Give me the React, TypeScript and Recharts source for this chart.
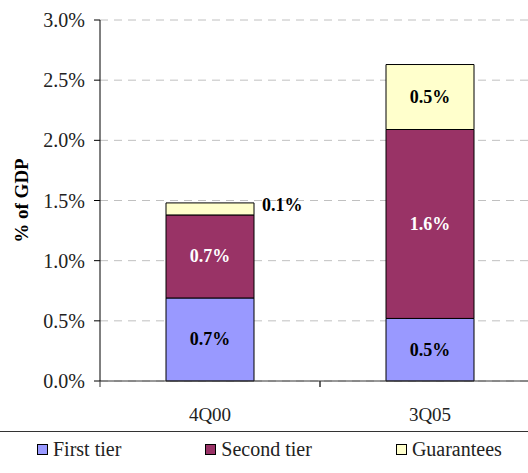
import React from 'react';
import { BarChart, Bar, XAxis, YAxis, CartesianGrid, Legend, LabelList } from 'recharts';

const FONT = "'Liberation Serif', 'Times New Roman', serif";

const periods = ['4Q00', '3Q05'];
const firstTier = [0.69, 0.52];
const secondTier = [0.69, 1.57];
const guarantees = [0.1, 0.54];
const yTicks = [0, 0.5, 1, 1.5, 2, 2.5, 3];

const SERIES = [
  { key: 'first', name: 'First tier', color: '#9999FF', text: '#000000' },
  { key: 'second', name: 'Second tier', color: '#993366', text: '#FFFFFF' },
  { key: 'guar', name: 'Guarantees', color: '#FFFFCC', text: '#000000' },
];

const data = periods.map((p, i) => ({
  period: p,
  first: firstTier[i],
  second: secondTier[i],
  guar: guarantees[i],
}));

// label inside the segment, or to the right when the segment is too thin
const makeLabel = (color: string) => (props: any) => {
  const { x, y, width, height, value } = props;
  const thin = height < 20;
  return (
    <text
      x={thin ? x + width + 8 : x + width / 2}
      y={thin ? y + 2 : y + height / 2}
      textAnchor={thin ? 'start' : 'middle'}
      dominantBaseline="central"
      fill={thin ? '#000' : color}
      fontWeight="bold"
      fontSize={18}
      fontFamily={FONT}
    >
      {Number(value).toFixed(1)}%
    </text>
  );
};

const XTick = (props: any) => {
  const { x, y, payload } = props;
  const half = payload.offset ?? 0;
  return (
    <g>
      <line x1={x - half} x2={x - half} y1={y} y2={y + 6} stroke="#333" />
      <line x1={x + half} x2={x + half} y1={y} y2={y + 6} stroke="#333" />
      <text x={x} y={y + 40} textAnchor="middle" fill="#222" fontSize={19} fontFamily={FONT}>
        {payload.value}
      </text>
    </g>
  );
};

const LegendBox = () => (
  <div style={{ position: 'relative', height: 62, width: 540, fontFamily: FONT }}>
    <div style={{ position: 'absolute', top: 20, left: 0, width: 540, borderTop: '1.5px solid #333' }} />
    <div style={{ position: 'absolute', top: 28, left: 37, display: 'flex', gap: 84, alignItems: 'center' }}>
      {SERIES.map((s) => (
        <div key={s.key} style={{ display: 'flex', alignItems: 'center' }}>
          <span
            style={{
              display: 'inline-block',
              width: 11,
              height: 11,
              boxSizing: 'border-box',
              border: '1px solid #000',
              background: s.color,
              marginRight: 5,
            }}
          />
          <span style={{ fontSize: 20, color: '#222', lineHeight: '20px' }}>{s.name}</span>
        </div>
      ))}
    </div>
  </div>
);

export default function App() {
  return (
    <div style={{ position: 'absolute', left: 0, top: 0, width: 528, height: 473, overflow: 'hidden', background: '#fff' }}>
      <BarChart width={540} height={473} data={data} margin={{ top: 20, right: 0, left: 0, bottom: 0 }}>
        <CartesianGrid vertical={false} stroke="#c0c0c0" strokeDasharray="8 6" />
        <XAxis
          dataKey="period"
          height={30}
          tickLine={false}
          tickSize={0}
          tickMargin={0}
          axisLine={{ stroke: '#333' }}
          tick={<XTick />}
        />
        <YAxis
          width={100}
          domain={[0, 3]}
          ticks={yTicks}
          interval={0}
          tickFormatter={(v: number) => `${v.toFixed(1)}%`}
          tickSize={6}
          tickMargin={9}
          axisLine={{ stroke: '#000' }}
          tickLine={{ stroke: '#000' }}
          tick={{ fill: '#222', fontSize: 20, fontFamily: FONT }}
          label={{
            content: (p: any) => {
              const vb = p.viewBox || { y: 20, height: 361 };
              const cx = 21;
              const cy = vb.y + vb.height / 2;
              return (
                <text
                  x={cx}
                  y={cy}
                  transform={`rotate(-90 ${cx} ${cy})`}
                  textAnchor="middle"
                  dominantBaseline="central"
                  fontWeight="bold"
                  fontSize={19}
                  fontFamily={FONT}
                  fill="#000"
                >
                  % of GDP
                </text>
              );
            },
          }}
        />
        <Legend verticalAlign="bottom" content={() => <LegendBox />} wrapperStyle={{ left: 0 }} />
        {SERIES.map((s) => (
          <Bar
            key={s.key}
            dataKey={s.key}
            name={s.name}
            stackId="a"
            fill={s.color}
            stroke="#000"
            strokeWidth={1}
            barSize={88}
            isAnimationActive={false}
          >
            <LabelList dataKey={s.key} content={makeLabel(s.text)} />
          </Bar>
        ))}
      </BarChart>
    </div>
  );
}
